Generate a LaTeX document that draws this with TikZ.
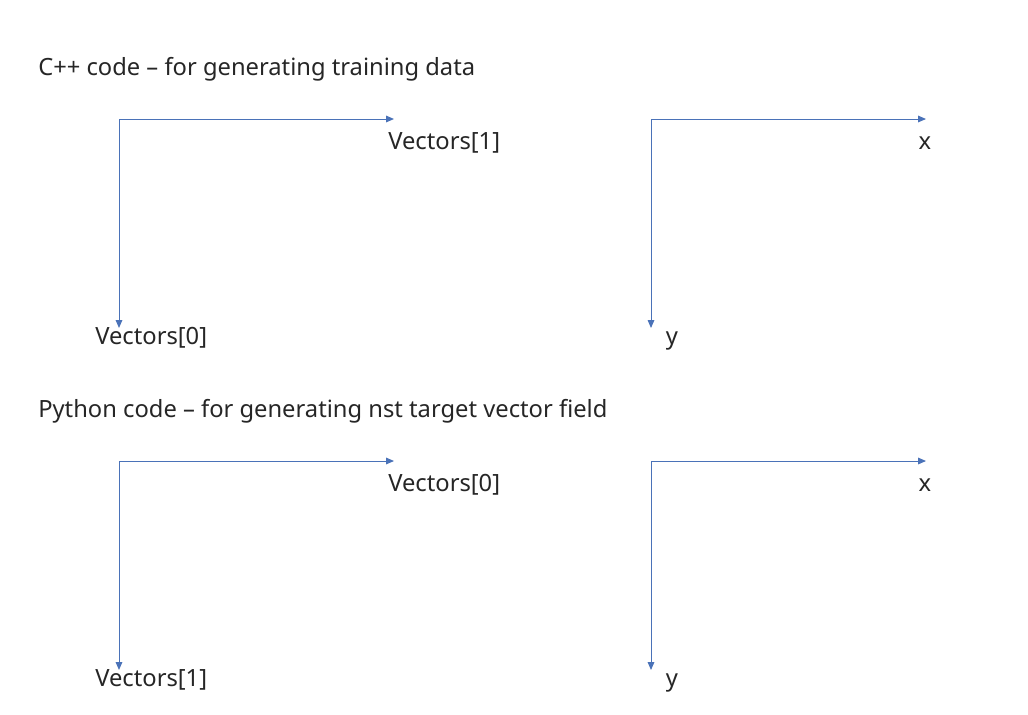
\documentclass[tikz,border=0pt]{standalone}
\usepackage{fontspec}
\setmainfont{Noto Sans}
\usetikzlibrary{arrows.meta}
\definecolor{axisblue}{HTML}{4A72B8}

\begin{document}
\begin{tikzpicture}[x=0.75pt,y=-0.75pt,
  axis/.style={axisblue,line width=0.75pt,-{Triangle[length=6pt,width=5pt]}},
  lbl/.style={inner sep=0pt,font=\fontsize{17.8}{20}\selectfont,text=black!85}]
\useasboundingbox (0,0) rectangle (1028,714);
% titles
\node[lbl,anchor=west] (cpp) at (38,69) {C++ code -- for generating training data};
\node[lbl,anchor=west] (py) at (38,411) {Python code -- for generating nst target vector field};
% axis corners and arrow ends
\foreach \n/\ox/\oy in {a/119/119,b/651/119,c/119/461,d/651/461}{
  \coordinate (\n O) at (\ox,\oy);
  \coordinate (\n R) at (\ox+275,\oy);
  \coordinate (\n D) at (\ox,\oy+209);
}
\foreach \n in {a,b,c,d}{\draw[axis] (\n O)--(\n R); \draw[axis] (\n O)--(\n D);}
% axis labels
\node[lbl,anchor=west] (aR) at (388,143) {Vectors[1]};
\node[lbl,anchor=west] (aD) at (95,338) {Vectors[0]};
\node[lbl] (bR) at (925,143) {x};
\node[lbl] (bD) at (672,341) {y};
\node[lbl,anchor=west] (cR) at (388,485) {Vectors[0]};
\node[lbl,anchor=west] (cD) at (95,680) {Vectors[1]};
\node[lbl] (dR) at (925,485) {x};
\node[lbl] (dD) at (672,683) {y};
\end{tikzpicture}
\end{document}
